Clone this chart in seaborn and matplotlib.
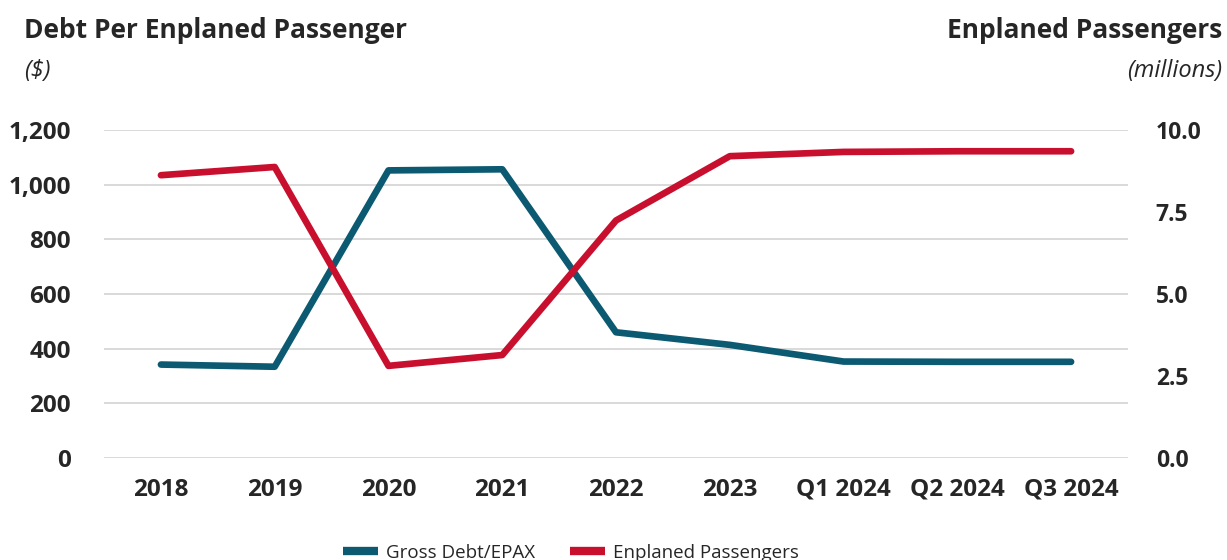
import pandas as pd
import matplotlib
matplotlib.use("Agg")
import matplotlib.pyplot as plt
import seaborn as sns
from matplotlib.lines import Line2D

# chart values
periods = ["2018", "2019", "2020", "2021", "2022", "2023", "Q1 2024", "Q2 2024", "Q3 2024"]
debt_per_epax = [342, 334, 1052, 1056, 460, 414, 353, 352, 352]
enplaned_millions = [8.62, 8.87, 2.81, 3.14, 7.24, 9.20, 9.33, 9.35, 9.35]

left_ticks = [0, 200, 400, 600, 800, 1000, 1200]
right_ticks = [0.0, 2.5, 5.0, 7.5, 10.0]

TEAL = "#0b5a72"
RED = "#c8102e"

sns.set_style("white")
plt.rcParams["font.family"] = ["Open Sans", "DejaVu Sans"]

df = pd.DataFrame({"period": periods, "debt": debt_per_epax, "epax": enplaned_millions})

fig = plt.figure(figsize=(12.27, 5.6), dpi=100)
ax = fig.add_axes([0.0848, 0.182, 0.8345, 0.586])
ax2 = ax.twinx()

sns.lineplot(data=df, x="period", y="debt", ax=ax, color=TEAL, linewidth=4.8,
             sort=False, clip_on=False, zorder=3)
sns.lineplot(data=df, x="period", y="epax", ax=ax2, color=RED, linewidth=4.8,
             sort=False, clip_on=False, zorder=3)

ax.set_xlim(-0.5, len(periods) - 0.5)
ax.set_ylim(0, 1200)
ax2.set_ylim(0, 10)
ax.set_yticks(left_ticks)
ax.set_yticklabels([f"{v:,}" for v in left_ticks])
ax2.set_yticks(right_ticks)
ax2.set_yticklabels([f"{v:.1f}" for v in right_ticks])

ax.grid(axis="y", color="#d9d9d9", linewidth=1.4)
ax.set_axisbelow(True)
for a in (ax, ax2):
    for s in a.spines.values():
        s.set_visible(False)
    a.set_xlabel("")
    a.set_ylabel("")

ax.tick_params(axis="y", length=0, pad=24, labelsize=17.5)
ax.tick_params(axis="x", length=0, pad=14, labelsize=17.5)
ax2.tick_params(axis="y", length=0, pad=20, labelsize=16.5)
for lbl in ax.get_yticklabels() + ax.get_xticklabels() + ax2.get_yticklabels():
    lbl.set_fontweight("bold")

# axis titles
fig.text(24 / 1227, 1 - 30 / 560, "Debt Per Enplaned Passenger", fontsize=19,
         fontweight="bold", ha="left", va="center")
fig.text(24 / 1227, 1 - 71 / 560, "($)", fontsize=17, style="italic",
         ha="left", va="center")
fig.text(1222 / 1227, 1 - 30 / 560, "Enplaned Passengers", fontsize=19,
         fontweight="bold", ha="right", va="center")
fig.text(1222 / 1227, 1 - 71 / 560, "(millions)", fontsize=17, style="italic",
         ha="right", va="center")

handles = [Line2D([], [], color=TEAL, linewidth=6, solid_capstyle="butt"),
           Line2D([], [], color=RED, linewidth=6, solid_capstyle="butt")]
fig.legend(handles, ["Gross Debt/EPAX", "Enplaned Passengers"], loc="center left",
           bbox_to_anchor=(343 / 1227, 1 - 553 / 560), ncol=2, frameon=False,
           fontsize=13.5, handlelength=1.85, handletextpad=0.42, columnspacing=1.9,
           borderpad=0, borderaxespad=0)

fig.savefig("out.png", dpi=100)
